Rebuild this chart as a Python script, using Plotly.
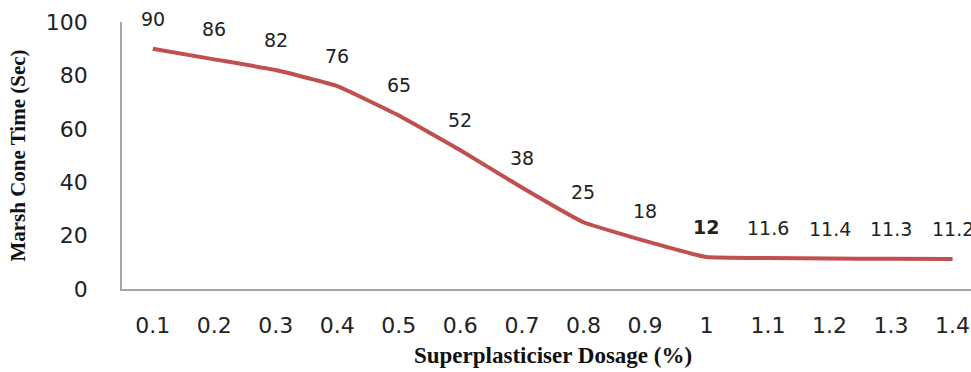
import plotly.graph_objects as go

# Marsh cone flow time versus superplasticiser dosage
dosage = ["0.1", "0.2", "0.3", "0.4", "0.5", "0.6", "0.7",
          "0.8", "0.9", "1", "1.1", "1.2", "1.3", "1.4"]
cone_time = [90, 86, 82, 76, 65, 52, 38, 25, 18, 12, 11.6, 11.4, 11.3, 11.2]
value_labels = ["90", "86", "82", "76", "65", "52", "38", "25", "18",
                "<b>12</b>", "11.6", "11.4", "11.3", "11.2"]
y_ticks = [0, 20, 40, 60, 80, 100]

idx = list(range(len(dosage)))
line_color = "#C0504D"
axis_color = "#A6A6A6"
tick_font = dict(family="DejaVu Sans", size=22, color="#222222")

fig = go.Figure()
fig.add_trace(go.Scatter(
    x=idx, y=cone_time, mode="lines",
    line=dict(color=line_color, width=4, shape="spline", smoothing=0.3),
    hoverinfo="x+y", showlegend=False,
))

# value labels above each point
for i, v, t in zip(idx, cone_time, value_labels):
    fig.add_annotation(
        x=i, y=v, text=t, showarrow=False, yshift=30,
        font=dict(family="DejaVu Sans", size=19, color="#222222"),
        xanchor="center", yanchor="middle",
    )

# x-axis title centred under the category span
fig.add_annotation(
    x=(len(dosage) - 1) / 2, y=0, xref="x", yref="y",
    text="<b>Superplasticiser Dosage (%)</b>", showarrow=False,
    yshift=-66, xanchor="center", yanchor="middle",
    font=dict(family="Liberation Serif", size=23, color="#111111"),
)

fig.update_layout(
    width=971, height=372,
    margin=dict(l=122, r=0, t=22, b=83),
    paper_bgcolor="white", plot_bgcolor="white",
    xaxis=dict(
        range=[-0.5, 13.3], tickvals=idx, ticktext=dosage,
        showgrid=False, zeroline=False, showline=True,
        linecolor=axis_color, linewidth=1.5, ticks="",
        tickfont=tick_font, ticklabelstandoff=16,
    ),
    yaxis=dict(
        range=[0, 100], tickvals=y_ticks,
        showgrid=False, zeroline=False, showline=True,
        linecolor=axis_color, linewidth=1.5, ticks="",
        tickfont=tick_font, ticklabelstandoff=28,
        title=dict(text="<b>Marsh Cone Time (Sec)</b>", standoff=14,
                   font=dict(family="Liberation Serif", size=21,
                             color="#111111")),
    ),
)

fig.write_html("out.html")
